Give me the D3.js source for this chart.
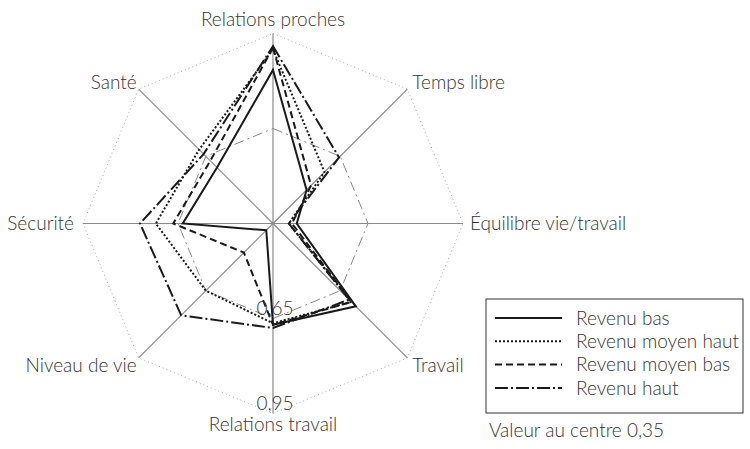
<!DOCTYPE html>
<html>
<head>
<meta charset="utf-8">
<script src="https://cdn.jsdelivr.net/npm/d3@7"></script>
<style>
  body { margin: 0; background: #fff; }
  text { font-family: "Lato", "Open Sans", sans-serif; font-weight: 300; fill: #333; }
</style>
</head>
<body>
<script>
// axes, clockwise from the top
var axes = ["Relations proches", "Temps libre", "Équilibre vie/travail", "Travail",
            "Relations travail", "Niveau de vie", "Sécurité", "Santé"];

// one value per axis, same order as axes
var revenuBas       = [0.835, 0.50, 0.425, 0.72, 0.67, 0.38, 0.635, 0.60];
var revenuMoyenHaut = [0.90, 0.58, 0.40, 0.70, 0.665, 0.65, 0.72, 0.68];
var revenuMoyenBas  = [0.905, 0.52, 0.41, 0.70, 0.67, 0.48, 0.665, 0.63];
var revenuHaut      = [0.91, 0.645, 0.40, 0.69, 0.68, 0.76, 0.77, 0.66];

var seriesNames = ["Revenu bas", "Revenu moyen haut", "Revenu moyen bas", "Revenu haut"];
var seriesDash  = [null, "2,2", "7,4", "13,3,2,3"];

var tickValues = [0.65, 0.95];
var centerValue = 0.35;

var width = 750, height = 449,
    cx = 273, cy = 223.5, radius = 190;

var svg = d3.select("body").append("svg")
    .attr("width", width)
    .attr("height", height);

var r = d3.scaleLinear().domain([centerValue, 0.95]).range([0, radius]);
var angle = d3.scaleLinear().domain([0, axes.length]).range([0, 2 * Math.PI]);
var fmt = function(v) { return d3.format(".2f")(v).replace(".", ","); };

var g = svg.append("g")
    .attr("transform", "translate(" + cx + "," + cy + ")");

function px(i, v) { return r(v) * Math.sin(angle(i)); }
function py(i, v) { return -r(v) * Math.cos(angle(i)); }

// grid octagons
var ring = d3.lineRadial()
    .angle(function(d, i) { return angle(i); })
    .radius(function(d) { return r(d); })
    .curve(d3.curveLinearClosed);

g.append("path")
    .datum(axes.map(function() { return 0.95; }))
    .attr("d", ring)
    .attr("fill", "none")
    .attr("stroke", "#aaa")
    .attr("stroke-width", 1)
    .attr("stroke-dasharray", "1,3");

g.append("path")
    .datum(axes.map(function() { return 0.65; }))
    .attr("d", ring)
    .attr("fill", "none")
    .attr("stroke", "#888")
    .attr("stroke-width", 1)
    .attr("stroke-dasharray", "10,4,2,4");

// spokes
g.selectAll("line.axis")
    .data(axes)
    .enter().append("line")
    .attr("class", "axis")
    .attr("x1", 0).attr("y1", 0)
    .attr("x2", function(d, i) { return px(i, 0.95); })
    .attr("y2", function(d, i) { return py(i, 0.95); })
    .attr("stroke", "#8a8a8a")
    .attr("stroke-width", 1.2);

// series
var allSeries = [revenuBas, revenuMoyenHaut, revenuMoyenBas, revenuHaut];

g.selectAll("path.serie")
    .data(allSeries)
    .enter().append("path")
    .attr("class", "serie")
    .attr("d", ring)
    .attr("fill", "none")
    .attr("stroke", "#1a1a1a")
    .attr("stroke-width", 2)
    .attr("stroke-dasharray", function(d, i) { return seriesDash[i]; });

// tick labels on the bottom axis
g.selectAll("text.tick")
    .data(tickValues)
    .enter().append("text")
    .attr("class", "tick")
    .attr("x", function(d) { return px(4, d) + 2; })
    .attr("y", function(d) { return py(4, d) - 4; })
    .attr("text-anchor", "middle")
    .style("font-size", "19px")
    .text(fmt);

// axis labels
g.selectAll("text.label")
    .data(axes)
    .enter().append("text")
    .attr("class", "label")
    .attr("x", function(d, i) {
        var s = Math.sin(angle(i)), c = Math.cos(angle(i));
        if (Math.abs(s) < 0.01) return 0;
        if (Math.abs(c) < 0.01) return px(i, 0.95) + (s > 0 ? 7 : -9);
        return px(i, 0.95) + (s > 0 ? 5 : -2);
    })
    .attr("y", function(d, i) {
        var c = Math.cos(angle(i));
        if (c > 0.99) return py(i, 0.95) - 8;
        if (c < -0.99) return py(i, 0.95) + 17;
        if (c > 0.01) return py(i, 0.95);
        if (c < -0.01) return py(i, 0.95) + 14;
        return 6;
    })
    .attr("text-anchor", function(d, i) {
        var s = Math.sin(angle(i));
        return Math.abs(s) < 0.01 ? "middle" : (s > 0 ? "start" : "end");
    })
    .style("font-size", "19px")
    .text(function(d) { return d; });

// legend
var legend = svg.append("g")
    .attr("transform", "translate(486,299)");

legend.append("rect")
    .attr("width", 257)
    .attr("height", 114)
    .attr("fill", "none")
    .attr("stroke", "#333")
    .attr("stroke-width", 1);

var rows = legend.selectAll("g.row")
    .data(seriesNames)
    .enter().append("g")
    .attr("class", "row")
    .attr("transform", function(d, i) { return "translate(0," + (19 + i * 23.3) + ")"; });

rows.append("line")
    .attr("x1", 9).attr("x2", 76)
    .attr("stroke", "#1a1a1a")
    .attr("stroke-width", 2)
    .attr("stroke-dasharray", function(d, i) { return seriesDash[i]; });

rows.append("text")
    .attr("x", 90)
    .attr("dy", "0.35em")
    .style("font-size", "19px")
    .text(function(d) { return d; });

svg.append("text")
    .attr("x", 489)
    .attr("y", 437)
    .style("font-size", "19px")
    .text("Valeur au centre " + fmt(centerValue));
</script>
</body>
</html>
